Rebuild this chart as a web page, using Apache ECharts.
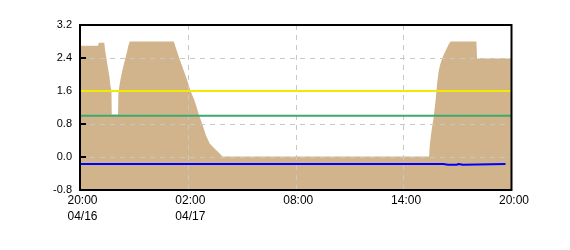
<!DOCTYPE html>
<html>
<head>
<meta charset="utf-8">
<script src="https://cdn.jsdelivr.net/npm/echarts@6/dist/echarts.min.js"></script>
<style>html,body{margin:0;padding:0;background:#fff;}#c{width:570px;height:250px;}</style>
</head>
<body>
<div id="c"></div>
<script>
// ---- data ----
var xTickLabels = ['20:00\n04/16', '02:00\n04/17', '08:00', '14:00', '20:00'];
var yTickLabels = ['-0.8', '0.0', '0.8', '1.6', '2.4', '3.2'];

var areaTimes = ['04/16 20:00','04/16 21:00','04/16 21:03','04/16 21:21','04/16 21:24','04/16 21:28','04/16 21:33','04/16 21:38','04/16 21:41','04/16 21:45','04/16 21:46','04/16 22:07','04/16 22:08','04/16 22:12','04/16 22:17','04/16 22:23','04/16 22:30','04/16 22:37','04/16 22:41','04/16 22:46',
  '04/17 01:13','04/17 01:31','04/17 01:56','04/17 02:09','04/17 02:23','04/17 02:38','04/17 02:48','04/17 03:00','04/17 03:13','04/17 03:28','04/17 03:56',
  '04/17 15:25','04/17 15:27','04/17 15:33','04/17 15:40','04/17 15:47','04/17 15:52','04/17 15:57','04/17 16:02','04/17 16:09','04/17 16:17','04/17 16:25','04/17 16:30','04/17 16:37',
  '04/17 18:03','04/17 18:05','04/17 20:00'];
var areaValues = [2.70,2.70,2.77,2.77,2.58,2.40,2.17,1.96,1.75,1.60,1.03,1.03,1.54,1.75,1.95,2.15,2.35,2.55,2.69,2.80,
  2.80,2.40,1.90,1.60,1.35,1.00,0.80,0.53,0.33,0.21,0.01,
  0.01,0.26,0.63,0.95,1.39,1.80,2.08,2.24,2.40,2.53,2.65,2.73,2.80,
  2.80,2.39,2.39];

var yellowTimes = ['04/16 20:00','04/17 20:00'];
var yellowValues = [1.6, 1.6];
var greenTimes = ['04/16 20:00','04/17 20:00'];
var greenValues = [1.0, 1.0];

var blueTimes = ['04/16 20:00','04/17 16:13','04/17 16:13','04/17 16:28','04/17 16:28','04/17 16:33','04/17 16:33','04/17 16:56','04/17 16:56','04/17 17:03','04/17 17:03','04/17 17:18','04/17 17:18','04/17 19:40'];
var blueValues = [-0.17,-0.17,-0.19,-0.19,-0.17,-0.17,-0.19,-0.19,-0.17,-0.17,-0.19,-0.19,-0.17,-0.17];

// hours since 04/16 20:00
function toHours(s) {
  var p = s.split(' '), d = p[0].split('/'), t = p[1].split(':');
  return (parseInt(d[1], 10) - 16) * 24 + parseInt(t[0], 10) + parseInt(t[1], 10) / 60 - 20;
}
function pairs(ts, vs) { return ts.map(function (t, i) { return [toHours(t), vs[i]]; }); }

var chart = echarts.init(document.getElementById('c'), null, { renderer: 'canvas' });
var font = 'Arial, "Liberation Sans", sans-serif';
chart.setOption({
  animation: false,
  backgroundColor: '#fff',
  grid: { left: 80, right: 58.5, top: 25, bottom: 60, show: true, z: 10,
          backgroundColor: 'transparent', borderColor: '#000', borderWidth: 2 },
  xAxis: {
    type: 'value', min: 0, max: 24, interval: 6, z: 3,
    axisLine: { show: false }, axisTick: { show: false },
    axisLabel: { color: '#000', fontFamily: font, fontSize: 12, lineHeight: 16, margin: 3,
      padding: [0, 0, 0, 5],
      formatter: function (v) { return xTickLabels[Math.round(v / 6)]; } },
    splitLine: { show: true, lineStyle: { color: '#c8c8c8', type: [5, 5], width: 1 } }
  },
  yAxis: {
    type: 'value', min: -0.8, max: 3.2, interval: 0.8, z: 3,
    axisLine: { show: false },
    axisTick: { show: true, inside: true, length: 6, lineStyle: { color: '#000', width: 2 } },
    axisLabel: { color: '#000', fontFamily: font, fontSize: 11, margin: 8,
      formatter: function (v) { return yTickLabels[Math.round((v + 0.8) / 0.8)]; } },
    splitLine: { show: true, lineStyle: { color: '#c8c8c8', type: [5, 5], width: 1 } }
  },
  series: [
    { type: 'line', data: pairs(areaTimes, areaValues), z: 2, symbol: 'none',
      lineStyle: { width: 0 }, itemStyle: { color: '#D2B48C' },
      areaStyle: { color: '#D2B48C', opacity: 1, origin: 'start' } },
    { type: 'line', data: pairs(yellowTimes, yellowValues), z: 4, symbol: 'none',
      lineStyle: { color: '#F2EA00', width: 2 } },
    { type: 'line', data: pairs(greenTimes, greenValues), z: 4, symbol: 'none',
      lineStyle: { color: '#3CAA6E', width: 2 } },
    { type: 'line', data: pairs(blueTimes, blueValues), z: 4, symbol: 'none',
      lineStyle: { color: '#0000FF', width: 2 } }
  ]
});
</script>
</body>
</html>
